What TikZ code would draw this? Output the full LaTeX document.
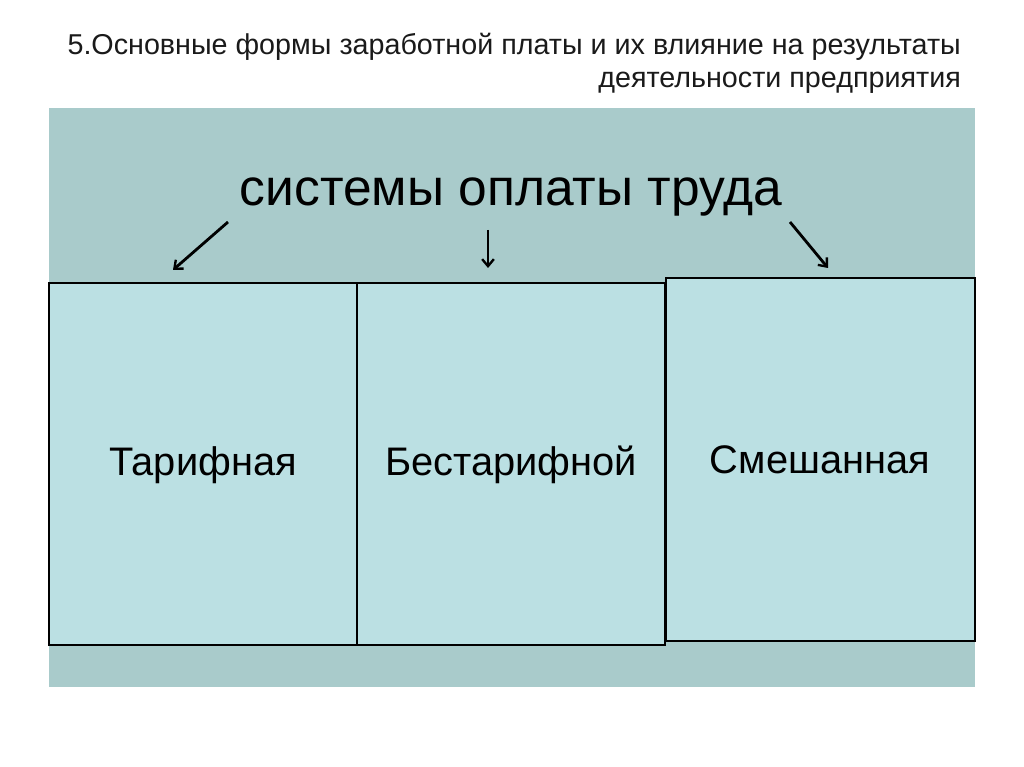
\documentclass[tikz,border=0pt]{standalone}
\usepackage{fontspec}
\setmainfont{Liberation Sans}
\usetikzlibrary{arrows.meta}
\definecolor{bgc}{HTML}{A9CBCB}
\definecolor{boxc}{HTML}{BBE0E3}
\definecolor{txt}{HTML}{1A1A1A}
\begin{document}
\begin{tikzpicture}[x=0.03cm,y=-0.03cm,
  box/.style={draw=black,line width=2.4pt,fill=boxc},
  arr/.style={-{Straight Barb[length=6pt,width=10pt,line width=2pt]},line width=2.4pt},
  lbl/.style={font=\fontsize{34}{40}\selectfont}]
\useasboundingbox (0,0) rectangle (1024,767);
\fill[white] (0,0) rectangle (1024,767);
\fill[bgc] (49,108) rectangle (975,687);
\draw[box] (49,283) rectangle (357,645);
\draw[box] (357,283) rectangle (665,645);
\draw[box] (666,278) rectangle (975,641);
\node[lbl] (t) at (203,465) {Тарифная};
\node[lbl] (b) at (511,465) {Бестарифной};
\node[lbl] (s) at (820,460) {Смешанная};
\node[font=\fontsize{44}{50}\selectfont] (h) at (511,197) {системы оплаты труда};
\node[anchor=east,align=right,text=txt,font=\fontsize{24.5}{28}\selectfont] (title) at (965,63)
  {5.Основные формы заработной платы и их влияние на результаты\\деятельности предприятия};
\coordinate (a1s) at (228,222); \coordinate (a1e) at (173,270);
\coordinate (a2s) at (488,230); \coordinate (a2e) at (488,268);
\coordinate (a3s) at (790,222); \coordinate (a3e) at (828,268);
\draw[arr] (a1s) -- (a1e);
\draw[arr,line width=1.6pt] (a2s) -- (a2e);
\draw[arr] (a3s) -- (a3e);
\end{tikzpicture}
\end{document}
